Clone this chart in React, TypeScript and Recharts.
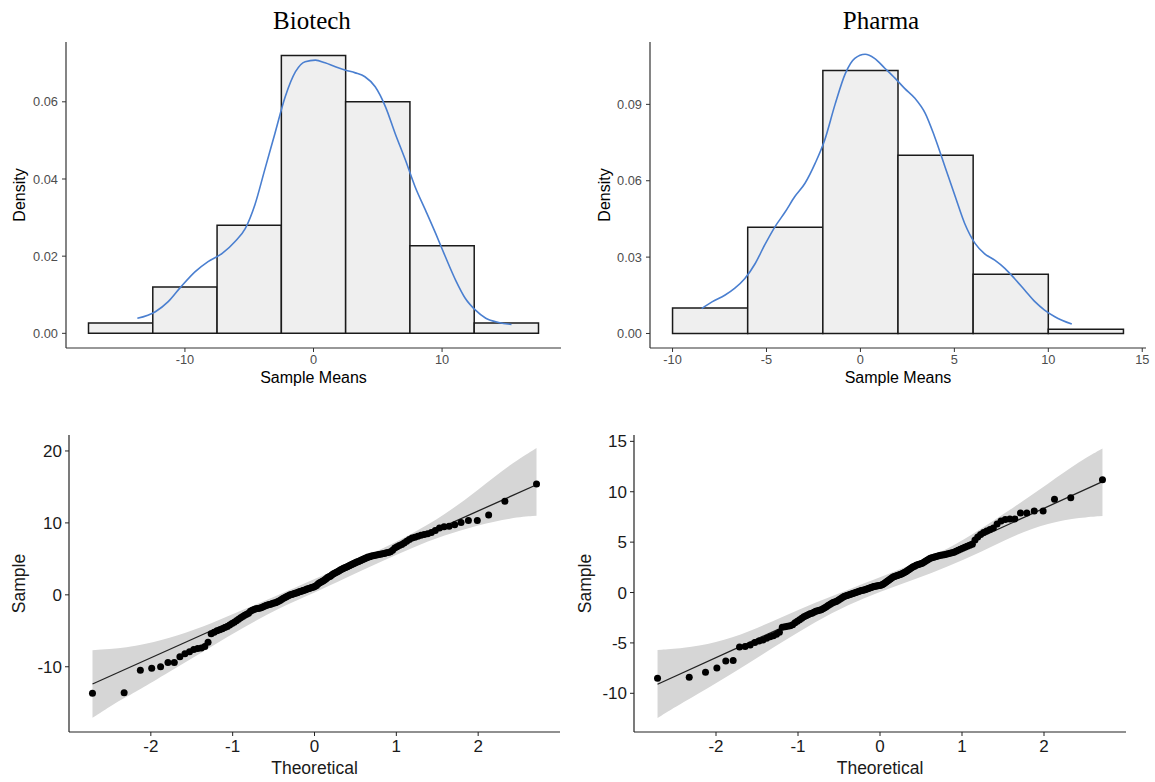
import React from "react";
import {
  Area,
  ComposedChart,
  Label,
  Line,
  ReferenceArea,
  Scatter,
  XAxis,
  YAxis,
} from "recharts";

const SANS = "'Liberation Sans', Arial, Helvetica, sans-serif";
const SERIF = "'Liberation Serif', 'Times New Roman', serif";

// ---------- histograms (density scale) ----------
const bioBinEdges = [-17.5, -12.5, -7.5, -2.5, 2.5, 7.5, 12.5, 17.5];
const bioBinDensity = [0.0027, 0.012, 0.028, 0.072, 0.06, 0.0227, 0.0027];
const bioKdeX = [
  -13.7, -12.3, -11.3, -10.3, -9.2, -8.2, -7.1, -6.1, -5.3, -4.55, -3.8, -3.0,
  -2.2, -1.4, -0.65, 0.15, 0.9, 1.7, 2.5, 3.25, 4.0, 4.8, 5.6, 6.35, 7.15, 7.9,
  8.7, 9.5, 10.25, 11.05, 11.8, 12.6, 13.4, 14.4, 15.4,
];
const bioKdeY = [
  0.0039, 0.0056, 0.0082, 0.0121, 0.016, 0.0186, 0.0207, 0.0238, 0.0272, 0.0334,
  0.0423, 0.0518, 0.0613, 0.0678, 0.0704, 0.0708, 0.0701, 0.0691, 0.0682, 0.0675,
  0.0665, 0.0639, 0.0587, 0.0518, 0.0449, 0.038, 0.032, 0.0259, 0.0199, 0.0138,
  0.0091, 0.006, 0.0039, 0.0028, 0.0023,
];

const pharmaBinEdges = [-10, -6, -2, 2, 6, 10, 14];
const pharmaBinDensity = [0.01, 0.0417, 0.1033, 0.07, 0.0233, 0.0017];
const pharmaKdeX = [
  -8.45, -7.9, -7.2, -6.7, -6.15, -5.6, -5.1, -4.55, -4.0, -3.5, -2.95, -2.4,
  -1.9, -1.35, -0.8, -0.3, 0.25, 0.75, 1.3, 1.85, 2.35, 2.9, 3.45, 3.95, 4.5,
  5.05, 5.55, 6.1, 6.6, 7.15, 7.7, 8.2, 8.75, 9.3, 9.8, 10.35, 11.25,
];
const pharmaKdeY = [
  0.0098, 0.0124, 0.0151, 0.0177, 0.0216, 0.0275, 0.0347, 0.0419, 0.0478, 0.0537,
  0.059, 0.067, 0.076, 0.09, 0.1022, 0.1081, 0.1097, 0.1081, 0.1042, 0.1002,
  0.0963, 0.0924, 0.0865, 0.0773, 0.0655, 0.0537, 0.0432, 0.0354, 0.0314, 0.0288,
  0.0255, 0.0216, 0.017, 0.0124, 0.0092, 0.0066, 0.0037,
];

const bioHistXTicks = [-10, 0, 10];
const bioHistYTicks = [0, 0.02, 0.04, 0.06];
const pharmaHistXTicks = [-10, -5, 0, 5, 10, 15];
const pharmaHistYTicks = [0, 0.03, 0.06, 0.09];

// ---------- QQ plots (sorted samples, n = 150) ----------
const bioSample = [
  -13.7, -13.6, -10.5, -10.2, -10.0, -9.4, -9.4, -8.6, -8.2, -7.9,
  -7.6, -7.45, -7.4, -7.2, -6.6, -5.4, -5.2, -5.0, -4.85, -4.7,
  -4.55, -4.4, -4.2, -4.0, -3.8, -3.6, -3.4, -3.2, -3.0, -2.85,
  -2.7, -2.55, -2.3, -2.15, -2.05, -1.95, -1.9, -1.85, -1.8, -1.7,
  -1.6, -1.5, -1.4, -1.35, -1.3, -1.2, -1.15, -1.1, -1.0, -0.9,
  -0.8, -0.65, -0.5, -0.4, -0.3, -0.2, -0.1, 0.0, 0.05, 0.1,
  0.2, 0.25, 0.3, 0.4, 0.45, 0.5, 0.6, 0.65, 0.7, 0.8,
  0.85, 0.9, 1.0, 1.05, 1.1, 1.2, 1.3, 1.5, 1.65, 1.75,
  1.85, 1.95, 2.1, 2.25, 2.4, 2.5, 2.6, 2.75, 2.9, 3.0,
  3.1, 3.2, 3.3, 3.45, 3.55, 3.65, 3.75, 3.85, 3.95, 4.05,
  4.15, 4.25, 4.35, 4.45, 4.55, 4.65, 4.75, 4.85, 4.95, 5.05,
  5.15, 5.25, 5.3, 5.4, 5.45, 5.5, 5.55, 5.6, 5.65, 5.7,
  5.75, 5.85, 5.9, 6.0, 6.2, 6.5, 6.7, 6.85, 7.0, 7.2,
  7.45, 7.7, 7.9, 8.0, 8.15, 8.3, 8.4, 8.5, 8.65, 8.95,
  9.3, 9.45, 9.55, 9.75, 10.05, 10.35, 10.35, 11.1, 13.0, 15.4,
];
const pharmaSample = [
  -8.5, -8.4, -7.9, -7.5, -6.8, -6.75, -5.4, -5.35, -5.2, -4.95,
  -4.8, -4.7, -4.55, -4.4, -4.3, -4.15, -3.95, -3.45, -3.4, -3.35,
  -3.3, -3.2, -3.0, -2.85, -2.7, -2.55, -2.4, -2.3, -2.2, -2.1,
  -2.05, -1.95, -1.85, -1.8, -1.75, -1.7, -1.6, -1.5, -1.4, -1.3,
  -1.2, -1.1, -1.0, -0.95, -0.9, -0.8, -0.7, -0.6, -0.5, -0.4,
  -0.35, -0.3, -0.25, -0.2, -0.15, -0.1, -0.05, 0.0, 0.05, 0.1,
  0.15, 0.2, 0.22, 0.25, 0.3, 0.35, 0.4, 0.45, 0.5, 0.55,
  0.6, 0.62, 0.65, 0.68, 0.7, 0.72, 0.78, 0.85, 0.95, 1.05,
  1.15, 1.25, 1.35, 1.45, 1.55, 1.6, 1.65, 1.7, 1.75, 1.8,
  1.85, 1.9, 1.98, 2.05, 2.15, 2.25, 2.35, 2.45, 2.55, 2.6,
  2.7, 2.75, 2.8, 2.85, 2.9, 3.0, 3.1, 3.2, 3.3, 3.4,
  3.45, 3.5, 3.55, 3.6, 3.65, 3.7, 3.72, 3.75, 3.8, 3.85,
  3.9, 3.95, 4.0, 4.1, 4.2, 4.3, 4.4, 4.5, 4.6, 4.7,
  4.8, 5.2, 5.5, 5.75, 5.95, 6.1, 6.25, 6.4, 6.8, 7.1,
  7.25, 7.3, 7.3, 7.9, 7.9, 8.1, 8.1, 9.25, 9.4, 11.2,
];

const bioLineX = [-2.713, 2.713];
const bioLineY = [-12.4, 15.3];
const pharmaLineX = [-2.713, 2.713];
const pharmaLineY = [-9.1, 11.0];

const bioBandX = [-2.713, -2.5, -2.3, -2.08, -1.67, -1.26, -0.86, -0.45, 0, 0.37, 0.77, 1.18, 1.59, 2.0, 2.4, 2.713];
const bioBandLo = [-17.1, -15.5, -14.2, -12.8, -10.0, -7.2, -4.5, -1.9, 0.3, 2.3, 4.4, 6.5, 8.3, 9.7, 10.7, 11.0];
const bioBandHi = [-7.7, -7.55, -7.3, -6.9, -5.7, -4.0, -2.0, -0.1, 2.2, 4.0, 6.1, 8.4, 11.1, 14.6, 18.2, 20.4];

const pharmaBandX = [-2.713, -2.41, -2.0, -1.6, -1.19, -0.79, -0.385, 0, 0.425, 0.83, 1.23, 1.64, 2.05, 2.45, 2.713];
const pharmaBandLo = [-12.45, -10.95, -9.0, -7.0, -4.9, -2.9, -1.2, 0.1, 1.3, 2.6, 4.0, 5.7, 6.9, 7.45, 7.6];
const pharmaBandHi = [-5.7, -5.55, -5.0, -3.9, -2.4, -1.0, 0.3, 1.5, 2.9, 4.3, 6.3, 8.5, 10.8, 13.1, 14.3];

const qqXTicks = [-2, -1, 0, 1, 2];
const bioQQYTicks = [-10, 0, 10, 20];
const pharmaQQYTicks = [-10, -5, 0, 5, 10, 15];

// inverse normal cdf (Acklam), used for the theoretical quantiles of the QQ plot
function qnorm(p: number): number {
  const a = [-39.69683028665376, 220.9460984245205, -275.9285104469687, 138.357751867269, -30.66479806614716, 2.506628277459239];
  const b = [-54.47609879822406, 161.5858368580409, -155.6989798598866, 66.80131188771972, -13.28068155288572];
  const c = [-0.007784894002430293, -0.3223964580411365, -2.400758277161838, -2.549732539343734, 4.374664141464968, 2.938163982698783];
  const d = [0.007784695709041462, 0.3224671290700398, 2.445134137142996, 3.754408661907416];
  const tail = (q: number) =>
    (((((c[0] * q + c[1]) * q + c[2]) * q + c[3]) * q + c[4]) * q + c[5]) /
    ((((d[0] * q + d[1]) * q + d[2]) * q + d[3]) * q + 1);
  if (p < 0.02425) return tail(Math.sqrt(-2 * Math.log(p)));
  if (p > 1 - 0.02425) return -tail(Math.sqrt(-2 * Math.log(1 - p)));
  const q = p - 0.5;
  const r = q * q;
  return (
    ((((((a[0] * r + a[1]) * r + a[2]) * r + a[3]) * r + a[4]) * r + a[5]) * q) /
    (((((b[0] * r + b[1]) * r + b[2]) * r + b[3]) * r + b[4]) * r + 1)
  );
}

type Margin = { top: number; right: number; bottom: number; left: number };

type HistProps = {
  left: number;
  top: number;
  width: number;
  height: number;
  margin: Margin;
  yAxisWidth: number;
  edges: number[];
  density: number[];
  kdeX: number[];
  kdeY: number[];
  xDomain: [number, number];
  yDomain: [number, number];
  xTicks: number[];
  yTicks: number[];
};

function HistPanel(p: HistProps) {
  const kde = p.kdeX.map((x, i) => ({ x, y: p.kdeY[i] }));
  return (
    <div style={{ position: "absolute", left: p.left, top: p.top }}>
      <ComposedChart width={p.width} height={p.height} margin={p.margin}>
        <XAxis
          type="number"
          dataKey="x"
          domain={p.xDomain}
          ticks={p.xTicks}
          allowDataOverflow
          height={p.height - p.margin.top - 306}
          tickSize={4}
          tickMargin={3}
          axisLine={{ stroke: "#333", strokeWidth: 1.2 }}
          tickLine={{ stroke: "#333" }}
          tick={{ fontSize: 12.8, fill: "#4d4d4d" }}
        >
          <Label value="Sample Means" position="insideBottom" offset={17} style={{ fontSize: 16, fill: "#000" }} />
        </XAxis>
        <YAxis
          type="number"
          domain={p.yDomain}
          ticks={p.yTicks}
          allowDataOverflow
          width={p.yAxisWidth}
          tickSize={4}
          tickMargin={4}
          tickFormatter={(v: number) => v.toFixed(2)}
          axisLine={{ stroke: "#333", strokeWidth: 1.2 }}
          tickLine={{ stroke: "#333" }}
          tick={{ fontSize: 12.8, fill: "#4d4d4d" }}
        >
          <Label
            value="Density"
            angle={-90}
            position="insideLeft"
            offset={19}
            style={{ fontSize: 16, fill: "#000", textAnchor: "middle" }}
          />
        </YAxis>
        {p.density.map((d, i) => (
          <ReferenceArea
            key={i}
            x1={p.edges[i]}
            x2={p.edges[i + 1]}
            y1={0}
            y2={d}
            fill="#efefef"
            fillOpacity={1}
            stroke="#1a1a1a"
            strokeWidth={1.5}
            ifOverflow="visible"
          />
        ))}
        <Line
          data={kde}
          dataKey="y"
          type="monotone"
          stroke="#4a7fd0"
          strokeWidth={1.6}
          dot={false}
          isAnimationActive={false}
        />
      </ComposedChart>
    </div>
  );
}

type QQProps = {
  left: number;
  top: number;
  width: number;
  height: number;
  margin: Margin;
  yAxisWidth: number;
  sample: number[];
  lineX: number[];
  lineY: number[];
  bandX: number[];
  bandLo: number[];
  bandHi: number[];
  yDomain: [number, number];
  yTicks: number[];
  yLabelOffset: number;
};

function QQPanel(p: QQProps) {
  const n = p.sample.length;
  const points = p.sample.map((y, i) => ({ x: qnorm((i + 0.5) / n), y }));
  const band = p.bandX.map((x, i) => ({ x, band: [p.bandLo[i], p.bandHi[i]] }));
  const line = p.lineX.map((x, i) => ({ x, y: p.lineY[i] }));
  return (
    <div style={{ position: "absolute", left: p.left, top: p.top }}>
      <ComposedChart width={p.width} height={p.height} margin={p.margin}>
        <XAxis
          type="number"
          dataKey="x"
          domain={[-3, 3]}
          ticks={qqXTicks}
          allowDataOverflow
          height={50}
          tickSize={4}
          tickMargin={4}
          axisLine={{ stroke: "#222", strokeWidth: 1.2 }}
          tickLine={{ stroke: "#222" }}
          tick={{ fontSize: 17, fill: "#1a1a1a" }}
        >
          <Label value="Theoretical" position="insideBottom" offset={8} style={{ fontSize: 17.5, fill: "#1a1a1a" }} />
        </XAxis>
        <YAxis
          type="number"
          domain={p.yDomain}
          ticks={p.yTicks}
          allowDataOverflow
          width={p.yAxisWidth}
          tickSize={4}
          tickMargin={3}
          axisLine={{ stroke: "#222", strokeWidth: 1.2 }}
          tickLine={{ stroke: "#222" }}
          tick={{ fontSize: 17, fill: "#1a1a1a" }}
        >
          <Label
            value="Sample"
            angle={-90}
            position="insideLeft"
            offset={p.yLabelOffset}
            style={{ fontSize: 17.5, fill: "#1a1a1a", textAnchor: "middle" }}
          />
        </YAxis>
        <Area
          data={band}
          dataKey="band"
          type="basis"
          fill="#d6d6d6"
          fillOpacity={1}
          stroke="none"
          isAnimationActive={false}
        />
        <Line
          data={line}
          dataKey="y"
          type="linear"
          stroke="#222"
          strokeWidth={1.3}
          dot={false}
          isAnimationActive={false}
        />
        <Scatter
          data={points}
          dataKey="y"
          isAnimationActive={false}
          shape={(s: any) => <circle cx={s.cx} cy={s.cy} r={3.5} fill="#000" />}
        />
      </ComposedChart>
    </div>
  );
}

function Title({ text, cx }: { text: string; cx: number }) {
  return (
    <div
      style={{
        position: "absolute",
        left: cx - 150,
        top: 8,
        width: 300,
        textAlign: "center",
        fontFamily: SERIF,
        fontSize: 25,
        lineHeight: "25px",
        color: "#000",
      }}
    >
      {text}
    </div>
  );
}

export default function App() {
  return (
    <div
      style={{
        position: "absolute",
        left: 0,
        top: 0,
        width: 1155,
        height: 782,
        background: "#fff",
        fontFamily: SANS,
        overflow: "hidden",
      }}
    >
      <Title text="Biotech" cx={312} />
      <Title text="Pharma" cx={881} />
      <HistPanel
        left={0}
        top={0}
        width={575}
        height={400}
        margin={{ top: 42, right: 14, bottom: 0, left: 0 }}
        yAxisWidth={66}
        edges={bioBinEdges}
        density={bioBinDensity}
        kdeX={bioKdeX}
        kdeY={bioKdeY}
        xDomain={[-19.25, 19.25]}
        yDomain={[-0.0038, 0.0755]}
        xTicks={bioHistXTicks}
        yTicks={bioHistYTicks}
      />
      <HistPanel
        left={585}
        top={0}
        width={570}
        height={400}
        margin={{ top: 42, right: 9, bottom: 0, left: 0 }}
        yAxisWidth={65}
        edges={pharmaBinEdges}
        density={pharmaBinDensity}
        kdeX={pharmaKdeX}
        kdeY={pharmaKdeY}
        xDomain={[-11.2, 15.2]}
        yDomain={[-0.0057, 0.1145]}
        xTicks={pharmaHistXTicks}
        yTicks={pharmaHistYTicks}
      />
      <QQPanel
        left={0}
        top={400}
        width={575}
        height={382}
        margin={{ top: 35, right: 15, bottom: 0, left: 0 }}
        yAxisWidth={69}
        sample={bioSample}
        lineX={bioLineX}
        lineY={bioLineY}
        bandX={bioBandX}
        bandLo={bioBandLo}
        bandHi={bioBandHi}
        yDomain={[-19.07, 22.22]}
        yTicks={bioQQYTicks}
        yLabelOffset={19}
      />
      <QQPanel
        left={570}
        top={400}
        width={571}
        height={382}
        margin={{ top: 35, right: 15, bottom: 0, left: 0 }}
        yAxisWidth={64}
        sample={pharmaSample}
        lineX={pharmaLineX}
        lineY={pharmaLineY}
        bandX={pharmaBandX}
        bandLo={pharmaBandLo}
        bandHi={pharmaBandHi}
        yDomain={[-13.84, 15.63]}
        yTicks={pharmaQQYTicks}
        yLabelOffset={15}
      />
    </div>
  );
}
